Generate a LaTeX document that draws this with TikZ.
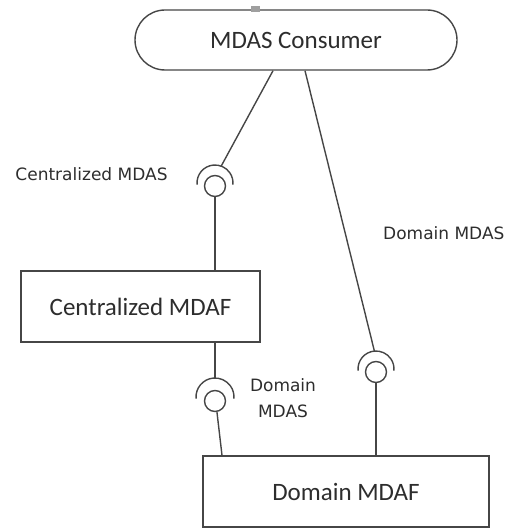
\documentclass[tikz,border=0pt]{standalone}
\usepackage{fontspec}
\setmainfont{Carlito}
\newfontfamily\lblfont{DejaVu Sans}
\definecolor{lc}{RGB}{70,70,70}
\definecolor{tc}{RGB}{45,45,45}
\begin{document}
\begin{tikzpicture}[x=1pt,y=-1pt,
  ln/.style={draw=lc, line width=1.4pt},
  box/.style={draw=lc, line width=1.4pt, fill=white, inner sep=0pt, font=\fontsize{25}{29}\selectfont, text=tc},
  ball/.style={circle, draw=lc, line width=1.4pt, fill=white, minimum size=21pt, inner sep=0pt},
  lbl/.style={font=\lblfont\fontsize{17}{26}\selectfont, text=tc, inner sep=0pt}]
\useasboundingbox (0,0) rectangle (506,529);

% main nodes
\node[box, rounded corners=30pt, minimum width=322pt, minimum height=60pt] (cons) at (296,40) {MDAS Consumer};
\node[box, minimum width=239pt, minimum height=71pt] (cmdaf) at (140.5,306.5) {Centralized MDAF};
\node[box, minimum width=286pt, minimum height=71pt] (dmdaf) at (346,491.5) {Domain MDAF};
\node[fill=gray!75, draw=none, minimum width=9pt, minimum height=6pt, inner sep=0pt] (hnd) at (255,9) {};

% balls
\node[ball] (b1) at (215,186) {};
\node[ball] (b2) at (376,372) {};
\node[ball] (b3) at (215,401) {};

% socket arcs (centres)
\coordinate (a1) at (215,183);
\coordinate (a2) at (376,369);
\coordinate (a3) at (215,397);
\draw[ln] (a1) ++(175:18) arc[start angle=175, end angle=365, radius=18];
\draw[ln] (a2) ++(175:18) arc[start angle=175, end angle=365, radius=18];
\draw[ln] (a3) ++(175:19) arc[start angle=175, end angle=365, radius=19];

% arc attachment points
\coordinate (t1) at (221.2,166.1);
\coordinate (t2) at (374.4,351.1);
\coordinate (t3) at (215,378);

% connectors
\draw[ln] ([xshift=-23pt]cons.south) -- (t1);
\draw[ln] ([xshift=9pt]cons.south) -- (t2);
\draw[ln] (b1.south) -- (b1.south |- cmdaf.north);
\draw[ln] (cmdaf.south -| t3) -- (t3);
\draw[ln] (b3.-80) -- ([xshift=-124pt]dmdaf.north);
\draw[ln] (b2.south) -- (b2.south |- dmdaf.north);

% labels
\node[lbl] (l1) at (91.5,174) {Centralized MDAS};
\node[lbl, anchor=west] (l2) at (383,233) {Domain MDAS};
\node[lbl, align=center] (l3) at (283,398) {Domain\\MDAS};
\end{tikzpicture}
\end{document}
